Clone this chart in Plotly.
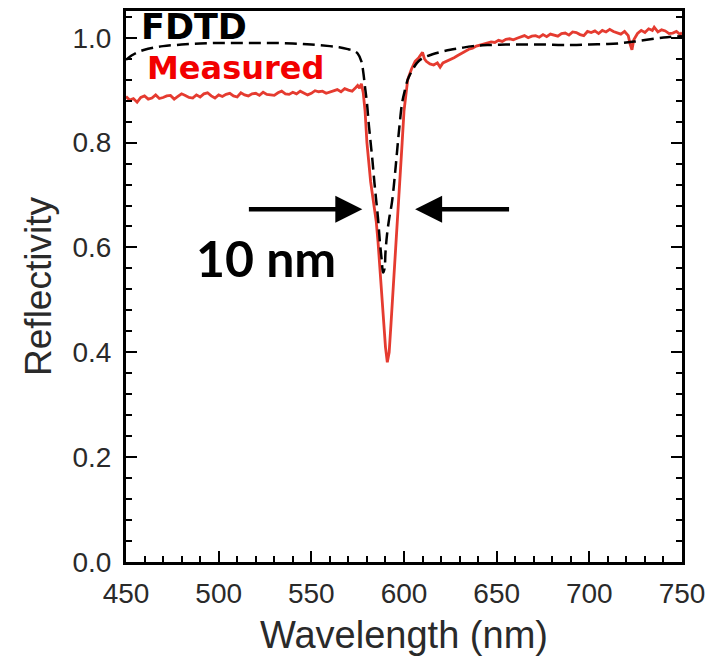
import plotly.graph_objects as go

# ---- data ----
fdtd_wl = [450, 453, 456, 460, 465, 470, 480, 490, 500, 510, 520, 530, 540, 550, 560, 565, 570, 573,
           575, 577, 578, 579, 580, 581, 582, 583, 584, 585, 586, 587, 588, 588.7, 589.5, 590, 590.8,
           592, 593.5, 595, 596.2, 597.5, 599, 600.5, 602, 604, 607, 610, 615, 620, 625, 630, 637,
           645, 655, 665, 675, 685, 691, 700, 710, 718, 725, 735, 742, 750]
fdtd_r = [0.958, 0.966, 0.972, 0.977, 0.981, 0.984, 0.987, 0.989, 0.990, 0.990, 0.990, 0.990, 0.989,
          0.987, 0.984, 0.982, 0.978, 0.975, 0.970, 0.955, 0.935, 0.905, 0.876, 0.835, 0.800, 0.765,
          0.725, 0.690, 0.655, 0.610, 0.575, 0.552, 0.560, 0.590, 0.623, 0.655, 0.686, 0.735, 0.781,
          0.830, 0.876, 0.900, 0.920, 0.935, 0.952, 0.961, 0.968, 0.973, 0.977, 0.980, 0.984, 0.986,
          0.987, 0.987, 0.987, 0.986, 0.986, 0.987, 0.988, 0.990, 0.993, 0.998, 1.001, 1.003]

meas_wl = [450, 452, 454, 456, 458, 460, 462, 464, 466, 468, 470, 472, 474, 476, 478, 480, 482, 484,
           486, 488, 490, 492, 494, 496, 498, 500, 502, 504, 506, 508, 510, 512, 514, 516, 518, 520,
           522, 524, 526, 528, 530, 532, 534, 536, 538, 540, 542, 544, 546, 548, 550, 552, 554, 556,
           558, 560, 562, 564, 566, 568, 570, 572, 574, 575, 576, 577, 578, 579, 580, 581, 582, 583,
           584, 585, 586, 587, 588, 589, 590, 591, 592, 593, 594, 595, 596, 597, 598, 599, 600, 601,
           602, 604, 606, 608, 610, 611, 612, 614, 616, 618, 619.5, 621, 623, 625, 627, 629, 631, 633,
           635, 637, 639, 641, 643, 645, 647, 649, 651, 653, 655, 657, 659, 661, 663, 665, 667, 669,
           671, 673, 675, 677, 679, 681, 683, 685, 687, 689, 691, 693, 695, 697, 699, 701, 703, 705,
           707, 709, 711, 713, 715, 717, 719, 721, 722, 723, 724, 726, 728, 730, 732, 734, 735, 737,
           739, 741, 743, 745, 747, 749, 750]
meas_r = [0.888, 0.881, 0.884, 0.877, 0.886, 0.889, 0.883, 0.885, 0.891, 0.884, 0.886, 0.889, 0.890,
          0.883, 0.888, 0.893, 0.890, 0.886, 0.885, 0.891, 0.887, 0.893, 0.895, 0.889, 0.885, 0.891,
          0.888, 0.892, 0.894, 0.889, 0.887, 0.895, 0.891, 0.889, 0.893, 0.894, 0.890, 0.896, 0.892,
          0.891, 0.890, 0.895, 0.898, 0.893, 0.892, 0.896, 0.893, 0.898, 0.895, 0.891, 0.894, 0.899,
          0.897, 0.898, 0.894, 0.896, 0.899, 0.901, 0.897, 0.903, 0.900, 0.898, 0.905, 0.909, 0.904,
          0.912, 0.895, 0.860, 0.800, 0.755, 0.725, 0.700, 0.675, 0.650, 0.610, 0.558, 0.510, 0.460,
          0.410, 0.381, 0.400, 0.455, 0.510, 0.558, 0.620, 0.670, 0.730, 0.800, 0.860, 0.895, 0.920,
          0.940, 0.955, 0.962, 0.972, 0.960, 0.955, 0.950, 0.948, 0.952, 0.944, 0.952, 0.955, 0.958,
          0.962, 0.966, 0.970, 0.975, 0.978, 0.980, 0.984, 0.986, 0.988, 0.990, 0.992, 0.991, 0.995,
          0.993, 0.997, 0.998, 0.996, 0.999, 1.001, 1.004, 1.000, 1.003, 1.004, 1.001, 1.006, 1.002,
          1.007, 1.005, 1.003, 1.008, 1.009, 1.005, 1.011, 1.010, 1.006, 1.004, 1.012, 1.010, 1.013,
          1.008, 1.014, 1.011, 1.016, 1.012, 1.010, 1.007, 1.012, 1.004, 0.988, 0.977, 0.996, 1.008,
          1.014, 1.010, 1.017, 1.014, 1.020, 1.011, 1.015, 1.013, 1.008, 1.009, 1.012, 1.006, 1.010]

x_ticks = [450, 500, 550, 600, 650, 700, 750]
y_ticks = [0.0, 0.2, 0.4, 0.6, 0.8, 1.0]

# annotation anchors (data units)
arrow_left = dict(tail=(515.5, 0.673), head=(577.5, 0.673))
arrow_right = dict(tail=(657.5, 0.673), head=(606, 0.673))
label_10nm = (525.5, 0.579)
label_fdtd = (457.5, 1.020)
label_meas = (461, 0.943)

RED_LINE = "#e53b30"
RED_TEXT = "#f20000"
TXT = "#2a2a2a"

fig = go.Figure()
fig.add_trace(go.Scatter(x=meas_wl, y=meas_r, mode="lines",
                         line=dict(color=RED_LINE, width=2.8), name="Measured"))
fig.add_trace(go.Scatter(x=fdtd_wl, y=fdtd_r, mode="lines", line_shape="spline",
                         line=dict(color="black", width=2.5, dash="12px,6px"), name="FDTD"))

for a in (arrow_left, arrow_right):
    fig.add_annotation(x=a["head"][0], y=a["head"][1], ax=a["tail"][0], ay=a["tail"][1],
                       xref="x", yref="y", axref="x", ayref="y", text="",
                       showarrow=True, arrowhead=2, arrowsize=1.2, arrowwidth=4.5,
                       arrowcolor="black", standoff=0)

fig.add_annotation(x=label_10nm[0], y=label_10nm[1], text="<b>10 nm</b>", showarrow=False,
                   font=dict(family="Lato", size=50, color="black"))
fig.add_annotation(x=label_fdtd[0], y=label_fdtd[1], text="<b>FDTD</b>", showarrow=False,
                   xanchor="left", borderpad=0,
                   font=dict(family="DejaVu Sans", size=35, color="black"))
fig.add_annotation(x=label_meas[0], y=label_meas[1], text="<b>Measured</b>", showarrow=False,
                   xanchor="left", borderpad=0,
                   font=dict(family="DejaVu Sans", size=32, color=RED_TEXT))

axis_common = dict(showline=True, linecolor="black", linewidth=3,
                   ticks="inside", tickcolor="black", tickwidth=2, ticklen=11,
                   showgrid=False, zeroline=False,
                   tickfont=dict(family="Liberation Sans", size=28, color=TXT))

fig.update_xaxes(**axis_common, mirror=True, range=[450, 750], tickvals=x_ticks,
                 ticktext=[str(v) for v in x_ticks], title_text="Wavelength (nm)",
                 title_font=dict(family="Liberation Sans", size=38, color=TXT),
                 title_standoff=14, ticklabelstandoff=4,
                 minor=dict(ticks="inside", dtick=10, ticklen=6, tickwidth=1.8, tickcolor="black"))
fig.update_yaxes(**axis_common, mirror="ticks", range=[0, 1.051], tickvals=y_ticks,
                 ticktext=[f"{v:.1f}" for v in y_ticks], title_text="Reflectivity",
                 title_font=dict(family="Liberation Sans", size=37, color=TXT),
                 title_standoff=10, ticklabelstandoff=6,
                 minor=dict(ticks="inside", dtick=0.04, ticklen=6, tickwidth=1.8, tickcolor="black"))

# the page body adds an 8px margin, so the figure is sized to fit the 715x660 window
fig.update_layout(width=707, height=652, margin=dict(l=118, r=33, t=0, b=98),
                  paper_bgcolor="white", plot_bgcolor="white", showlegend=False)

fig.write_html("out.html")
